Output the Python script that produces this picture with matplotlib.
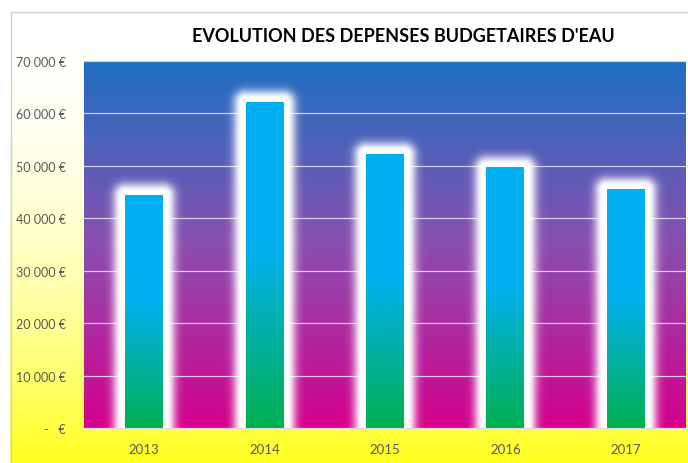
import numpy as np
import matplotlib
matplotlib.use("Agg")
import matplotlib.pyplot as plt
from matplotlib.lines import Line2D

# ---------------- data ----------------
years = ["2013", "2014", "2015", "2016", "2017"]
depenses = [44400, 62100, 52200, 49600, 45500]
ytick_values = [0, 10000, 20000, 30000, 40000, 50000, 60000, 70000]
ytick_labels = ["-   €", "10 000 €", "20 000 €", "30 000 €", "40 000 €",
                "50 000 €", "60 000 €", "70 000 €"]
title = "EVOLUTION DES DEPENSES BUDGETAIRES D'EAU"

plt.rcParams['font.family'] = ['Lato', 'DejaVu Sans']

W, H = 688, 464
fig = plt.figure(figsize=(W / 100, H / 100), dpi=100)

# ---------------- figure background (white -> yellow) ----------------
bg = fig.add_axes([0, 0, 1, 1], zorder=-10)
bg.set_xlim(0, W)
bg.set_ylim(H, 0)
bg.axis('off')
yy = np.arange(H)[:, None] + 0.5
xx = np.arange(W)[None, :] + 0.5
t = np.clip((yy - 12) / (H - 12), 0, 1)
blue = 1 - 0.88 * t ** 2.0
img = np.ones((H, W, 3))
img[:, :, 2] = np.broadcast_to(blue, (H, W))
outside = (yy < 12) | (xx < 10)
img[np.broadcast_to(outside, (H, W))] = 1.0
bg.imshow(img, extent=[0, W, H, 0], aspect='auto', interpolation='bilinear')
bg.add_line(Line2D([10.5, 10.5], [12.5, H], color='#D0D0D0', lw=1))
bg.add_line(Line2D([10.5, W], [12.5, 12.5], color='#D0D0D0', lw=1))

# ---------------- main axes ----------------
L, R, T, B = 84, 686, 62, 429
ax = fig.add_axes([L / W, (H - B) / H, (R - L) / W, (B - T) / H])
x = np.arange(len(years))
ax.set_xlim(-0.5, len(years) - 0.5)
ax.set_ylim(ytick_values[0], ytick_values[-1])

# plot-area gradient: blue (top) -> purple -> magenta (bottom)
ny = 400
s = np.linspace(0, 1, ny)[:, None]  # 0 top, 1 bottom
stops = np.array([0.0, 0.5, 1.0])
cols = np.array([[30, 112, 194], [138, 78, 176], [214, 0, 140]]) / 255
grad = np.stack([np.interp(s[:, 0], stops, cols[:, k]) for k in range(3)], axis=1)
grad = np.repeat(grad[:, None, :], 2, axis=1)
ax.imshow(grad, extent=[-0.5, len(years) - 0.5, 0, ytick_values[-1]],
          aspect='auto', zorder=0, interpolation='bilinear', origin='upper')

# gridlines
ax.set_yticks(ytick_values)
ax.set_yticklabels(ytick_labels)
ax.set_xticks(x)
ax.set_xticklabels(years)
ax.set_axisbelow(True)
ax.yaxis.grid(True, color=(0.9, 0.9, 0.97), lw=0.9, alpha=0.85, zorder=0.5)

# bars
bw = 0.315
bars = ax.bar(x, depenses, width=bw, color='none', edgecolor='none', zorder=3)

# glow (computed in pixel space from bar geometry)
nx_px, ny_px = R - L, B - T
px = np.arange(nx_px)[None, :] + 0.5 + L
py = np.arange(ny_px)[:, None] + 0.5 + T  # from top
alpha = np.zeros((ny_px, nx_px))
for b in bars:
    (x0, y0), (x1, y1) = ax.transData.transform(
        [(b.get_x(), b.get_y()), (b.get_x() + b.get_width(), b.get_y() + b.get_height())])
    top = H - y1
    bot = H - y0
    dx = np.maximum(np.maximum(x0 - px, 0), px - x1)
    dy = np.maximum(np.maximum(top - py, 0), py - bot)
    d = np.sqrt(dx ** 2 + dy ** 2)
    a = np.where(d <= 4.0, 1.0, np.exp(-((d - 4.0) / 8.5) ** 2))
    alpha = np.maximum(alpha, a)
glow = np.ones((ny_px, nx_px, 4))
glow[:, :, 3] = alpha
ax.imshow(glow, extent=[-0.5, len(years) - 0.5, 0, ytick_values[-1]],
          aspect='auto', zorder=2, interpolation='bilinear', origin='upper')

# bar gradients (green bottom -> cyan top)
cyan = np.array([0, 176, 240]) / 255
green = np.array([0, 176, 80]) / 255
for b in bars:
    n = 300
    f = np.linspace(1, 0, n)  # top -> bottom fraction of bar height
    w = np.clip(f / 0.55, 0, 1)[:, None]
    g = green * (1 - w) + cyan * w
    g = np.repeat(g[:, None, :], 2, axis=1)
    ax.imshow(g, extent=[b.get_x(), b.get_x() + b.get_width(), 0, b.get_height()],
              aspect='auto', zorder=3, interpolation='bilinear', origin='upper')
ax.set_xlim(-0.5, len(years) - 0.5)
ax.set_ylim(ytick_values[0], ytick_values[-1])

for sp in ['top', 'right', 'left']:
    ax.spines[sp].set_visible(False)
ax.spines['bottom'].set_color('#D9D9D9')
ax.spines['bottom'].set_linewidth(0.8)
ax.spines['bottom'].set_zorder(5)
ax.tick_params(axis='both', length=0, colors='#595959', labelsize=9)
ax.tick_params(axis='x', labelsize=9.5, pad=11)
ax.tick_params(axis='y', pad=13)

fig.text(403 / W, 1 - 36 / H, title, ha='center', va='center',
         fontsize=13, fontweight='bold', color='black')

fig.savefig("out.png", dpi=100)
